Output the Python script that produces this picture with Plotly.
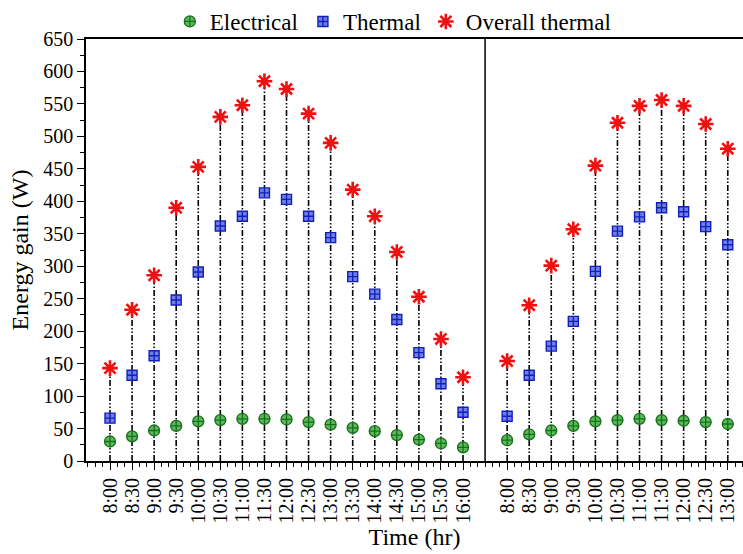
import plotly.graph_objects as go

# ---- data ----
times_day1 = ["8:00", "8:30", "9:00", "9:30", "10:00", "10:30", "11:00", "11:30", "12:00",
              "12:30", "13:00", "13:30", "14:00", "14:30", "15:00", "15:30", "16:00"]
times_day2 = ["8:00", "8:30", "9:00", "9:30", "10:00", "10:30", "11:00", "11:30", "12:00",
              "12:30", "13:00"]

electrical_day1 = [30, 38, 47, 54, 61, 63, 65, 65, 64, 60, 56, 51, 46, 40, 33, 27, 21]
thermal_day1 = [66, 132, 162, 248, 291, 362, 377, 413, 403, 377, 344, 284, 257, 218, 167, 119, 75]
overall_day1 = [143, 233, 286, 390, 453, 530, 548, 585, 573, 535, 490, 418, 377, 322, 253, 188, 129]

electrical_day2 = [32, 41, 47, 54, 61, 63, 65, 63, 62, 60, 57]
thermal_day2 = [69, 132, 177, 215, 292, 354, 376, 390, 384, 361, 333]
overall_day2 = [154, 240, 301, 357, 455, 521, 547, 556, 547, 519, 481]

y_tick_values = list(range(0, 651, 50))

# ---- positions on a continuous category axis (one empty slot between days) ----
x1 = list(range(len(times_day1)))
gap = len(times_day1)
x2 = [gap + 1 + i for i in range(len(times_day2))]
xs = x1 + x2
labels = times_day1 + times_day2
elec = electrical_day1 + electrical_day2
therm = thermal_day1 + thermal_day2
overall = overall_day1 + overall_day2

FONT = "Liberation Serif, Times New Roman, serif"

fig = go.Figure()

# drop lines from the top marker to zero
dx, dy = [], []
for x, v in zip(xs, overall):
    dx += [x, x, None]
    dy += [0, v, None]
fig.add_trace(go.Scatter(x=dx, y=dy, mode="lines", showlegend=False, hoverinfo="skip",
                         line=dict(color="black", width=1.6, dash="6px,2px,1.5px,2px,1.5px,2px")))

fig.add_trace(go.Scatter(x=xs, y=elec, mode="markers", name="Electrical",
                         marker=dict(symbol="circle-cross", size=11, color="#5cb85c",
                                     line=dict(color="#16701a", width=1.3))))
fig.add_trace(go.Scatter(x=xs, y=therm, mode="markers", name="Thermal",
                         marker=dict(symbol="square-cross", size=10, color="#6f7fe8",
                                     line=dict(color="#1320b8", width=1.4))))
fig.add_trace(go.Scatter(x=xs, y=overall, mode="markers", name="Overall thermal",
                         marker=dict(symbol="asterisk-open", size=13, color="#ee1111",
                                     line=dict(color="#ee1111", width=2.6))))

# divider between the two days
fig.add_shape(type="line", xref="x", yref="paper", x0=gap, x1=gap, y0=0, y1=1,
              line=dict(color="black", width=1.5))

fig.update_layout(
    width=743, height=554,
    margin=dict(l=86, r=0, t=32, b=93),
    paper_bgcolor="white", plot_bgcolor="white",
    font=dict(family=FONT, size=20, color="black"),
    showlegend=True,
    legend=dict(orientation="h", x=0.467, xanchor="center", y=1.042, yanchor="middle",
                font=dict(family=FONT, size=23), bgcolor="rgba(0,0,0,0)",
                itemwidth=30, tracegroupgap=0),
)

fig.update_xaxes(
    range=[-1.088, 28.69], tickmode="array", tickvals=xs, ticktext=labels,
    tickangle=-90, ticks="outside", ticklen=7, tickwidth=1.3, tickcolor="black",
    minor=dict(tickmode="linear", tick0=0, dtick=1/3, ticks="outside", ticklen=4,
               tickwidth=1.1, tickcolor="black", showgrid=False),
    showline=True, linecolor="black", linewidth=2, mirror=True,
    showgrid=False, zeroline=False,
    tickfont=dict(family=FONT, size=20),
    title=dict(text="Time (hr)", font=dict(family=FONT, size=24), standoff=6),
)
fig.update_yaxes(
    range=[0, 650], tickmode="array", tickvals=y_tick_values,
    ticks="outside", ticklen=7, tickwidth=1.3, tickcolor="black",
    minor=dict(tickmode="linear", tick0=0, dtick=25, ticks="outside", ticklen=4,
               tickwidth=1.1, tickcolor="black", showgrid=False),
    showline=True, linecolor="black", linewidth=1.6,
    showgrid=False, zeroline=False,
    tickfont=dict(family=FONT, size=20),
    title=dict(text="Energy gain (W)", font=dict(family=FONT, size=24), standoff=8),
)

fig.write_html("out.html")
